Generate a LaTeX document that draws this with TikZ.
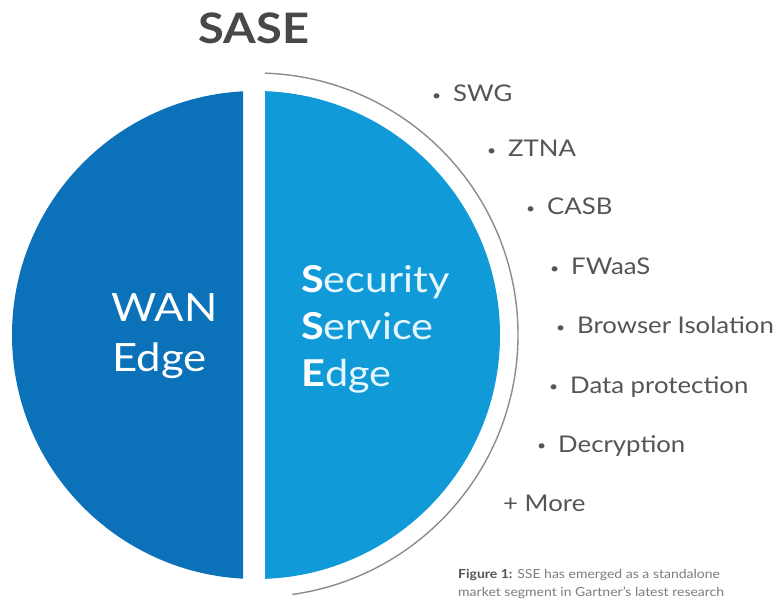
\documentclass[tikz,border=0pt]{standalone}
\usepackage{fontspec}
\setmainfont{Lato}[FakeStretch=1.12]
\definecolor{leftblue}{RGB}{11,114,186}
\definecolor{rightblue}{RGB}{16,154,216}
\definecolor{txtgray}{RGB}{85,85,85}
\definecolor{titlegray}{RGB}{72,72,72}
\definecolor{capgray}{RGB}{125,125,125}
\definecolor{arcgray}{RGB}{140,140,140}
\definecolor{softwhite}{RGB}{232,247,255}
\newcommand\bdot{\llap{\raisebox{1.2pt}{\fontsize{14}{14}\selectfont\textbullet}\hspace{12pt}}}
\tikzset{
  item/.style={anchor=base west, inner sep=0pt, text=txtgray, font=\fontsize{23}{23}\selectfont},
  bigwhite/.style={anchor=base west, inner sep=0pt, text=white},
  capline/.style={anchor=base west, inner sep=0pt, text=capgray, font=\fontsize{12.5}{12.5}\selectfont}
}
\begin{document}
\begin{tikzpicture}[x=1pt,y=-1pt]
\useasboundingbox (0,0) rectangle (779,601);
\fill[white] (0,0) rectangle (779,601);
% halves
\begin{scope}
  \clip (0,0) rectangle (243,601);
  \fill[leftblue] (256,335) circle[radius=244pt];
\end{scope}
\begin{scope}
  \clip (265,0) rectangle (779,601);
  \fill[rightblue] (256,335) circle[radius=244pt];
\end{scope}
% outer arc
\draw[arcgray, line width=1.4pt] (256,335) ++(88:262pt) arc[start angle=88, end angle=-82, radius=262pt];
% title
\node[anchor=base, inner sep=0pt, text=titlegray, font=\fontsize{42}{42}\selectfont\bfseries] (title) at (254,44) {SASE};
% WAN Edge
\node[bigwhite, font=\fontsize{39}{39}\selectfont] (wan) at (111,322) {WAN};
\node[bigwhite, font=\fontsize{39}{39}\selectfont] (wanedge) at (112,372) {Edge};
% SSE
\node[bigwhite, font=\fontsize{37}{37}\selectfont] (sec) at (301,293) {\textbf{S}\textcolor{softwhite}{ecurity}};
\node[bigwhite, font=\fontsize{37}{37}\selectfont] (serv) at (301,340) {\textbf{S}\textcolor{softwhite}{ervice}};
\node[bigwhite, font=\fontsize{37}{37}\selectfont] (edge) at (301,387) {\textbf{E}\textcolor{softwhite}{dge}};
% items
\node[item] (swg) at (453,102) {\bdot SWG};
\node[item] (ztna) at (508,157) {\bdot ZTNA};
\node[item] (casb) at (547,215) {\bdot CASB};
\node[item] (fwaas) at (571,275) {\bdot FWaaS};
\node[item] (bi) at (577,334) {\bdot Browser Isolation};
\node[item] (dp) at (570,393) {\bdot Data protection};
\node[item] (dec) at (558,452) {\bdot Decryption};
\node[item] (more) at (503,511) {+ More};
% caption
\node[capline] (cap1) at (458,578) {\textcolor{txtgray}{\textbf{Figure 1:}} SSE has emerged as a standalone};
\node[capline] (cap2) at (458,596) {market segment in Gartner's latest research};
\end{tikzpicture}
\end{document}
